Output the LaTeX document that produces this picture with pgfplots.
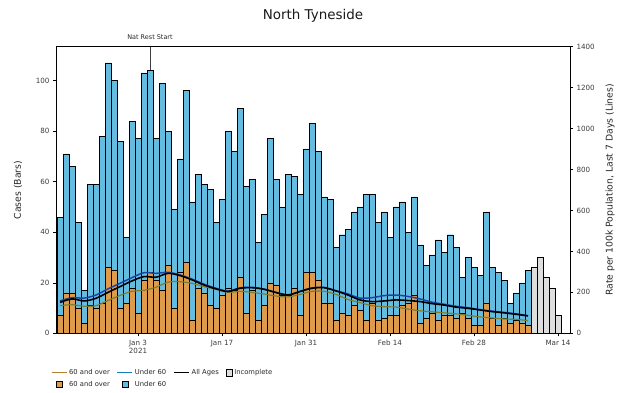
\documentclass[border=0pt]{standalone}
\usepackage{pgfplots}
\pgfplotsset{compat=1.18}
\usepackage{pgfplotstable}
\usepackage{fontspec}
\setmainfont{DejaVu Sans}
\definecolor{barblue}{RGB}{100,188,224}
\definecolor{barorange}{RGB}{222,155,75}
\definecolor{bargrey}{RGB}{222,222,222}
\definecolor{lineblue}{RGB}{25,70,165}
\definecolor{lineold}{RGB}{125,125,50}
\definecolor{legold}{RGB}{185,125,50}
\definecolor{ticktext}{RGB}{60,60,60}

\pgfplotstableread{
day over under inc
0 7 39 0
1 16 55 0
2 16 50 0
3 10 34 0
4 4 13 0
5 11 48 0
6 10 49 0
7 12 66 0
8 26 81 0
9 25 75 0
10 10 66 0
11 12 26 0
12 18 66 0
13 8 69 0
14 21 82 0
15 24 80 0
16 21 56 0
17 17 82 0
18 27 53 0
19 10 39 0
20 24 45 0
21 28 68 0
22 5 47 0
23 18 45 0
24 16 43 0
25 11 46 0
26 10 34 0
27 15 38 0
28 18 62 0
29 17 55 0
30 22 67 0
31 8 50 0
32 17 44 0
33 5 31 0
34 11 36 0
35 20 57 0
36 19 42 0
37 15 35 0
38 15 48 0
39 18 44 0
40 7 48 0
41 24 49 0
42 24 59 0
43 21 51 0
44 12 42 0
45 12 41 0
46 5 29 0
47 8 31 0
48 7 34 0
49 11 37 0
50 9 41 0
51 5 50 0
52 12 43 0
53 5 39 0
54 6 42 0
55 7 31 0
56 7 43 0
57 11 41 0
58 12 28 0
59 15 39 0
60 4 31 0
61 6 21 0
62 8 23 0
63 5 32 0
64 7 25 0
65 7 32 0
66 6 28 0
67 8 14 0
68 6 24 0
69 3 23 0
70 3 20 0
71 12 36 0
72 6 20 0
73 3 21 0
74 6 15 0
75 4 8 0
76 5 11 0
77 4 16 0
78 3 22 0
79 0 0 26
80 0 0 30
81 0 0 22
82 0 0 18
83 0 0 7
}\bars

\pgfplotstableread{
day all under over
0 151 158 135
2 168 174 140
4 158 172 132
6 171 187 135
8 200 217 160
10 228 244 185
12 256 272 205
14 277 296 210
16 274 293 225
18 293 298 250
20 282 285 252
22 261 265 244
24 236 240 228
26 217 220 215
28 204 206 200
30 220 222 205
32 223 224 200
34 215 216 192
36 199 200 182
38 187 188 178
40 204 205 190
42 220 222 205
44 223 224 205
46 207 208 190
48 187 192 165
50 163 172 150
52 155 174 135
54 158 184 130
56 163 187 128
58 160 180 118
60 155 168 110
62 145 152 105
64 138 142 100
66 128 132 95
68 122 125 88
70 114 116 80
72 106 108 75
74 100 102 70
76 93 95 68
78 85 86 62
}\rates

\pgfplotsset{
  boxlegend/.style={legend image code/.code={\draw[##1] (4.5bp,-3.2bp) rectangle (10.5bp,3.2bp);}},
  linelegend/.style={legend image code/.code={\draw[##1] (0bp,0bp) -- (15bp,0bp);}},
  common/.style={
    at={(56bp,59.7bp)}, anchor=south west,
    scale only axis, width=514bp, height=286.6bp,
    xmin=-0.67, xmax=85,
    tick align=outside, major tick length=3bp,
    tick style={black, line width=0.4pt},
    tick label style={font=\fontsize{7.2}{8.4}\selectfont, text=ticktext},
    /pgf/number format/assume math mode=true,
    /pgf/number format/1000 sep={},
  },
}

\begin{document}
\begin{tikzpicture}
\path[use as bounding box] (0,0) rectangle (620bp,393bp);
\begin{axis}[common,
  ymin=0, ymax=113.4,
  ybar stacked, bar width=1,
  xtick={13,27,41,55,69,83},
  xticklabels={{Jan 3\\2021},Jan 17,Jan 31,Feb 14,Feb 28,Mar 14},
  xticklabel style={align=center},
  xtick pos=bottom, ytick pos=left,
  ytick={0,20,...,100},
  axis line style={black, line width=0.5pt},
]
\addplot[fill=barorange, draw=black, line width=0.45pt] table[x=day, y=over] {\bars};
\addplot[fill=barblue, draw=black, line width=0.45pt] table[x=day, y=under] {\bars};
\addplot[fill=bargrey, draw=black, line width=0.45pt] table[x=day, y=inc] {\bars};
\draw[black!75, line width=0.6pt] (axis cs:15,0) -- (axis cs:15,113.4);
\end{axis}
\begin{axis}[common,
  ymin=0, ymax=1400,
  hide x axis, axis y line*=right,
  ytick={0,200,...,1400},
  axis line style={black, line width=0.5pt},
  legend columns=4,
  legend style={at={(-0.012,-0.115)}, anchor=north west, draw=none, fill=none,
    font=\fontsize{6.8}{8}\selectfont, text=black!85,
    /tikz/every even column/.append style={column sep=5bp},
    row sep=1bp, inner sep=1bp},
  legend cell align=left,
]
\addplot[lineold, line width=1.2pt, smooth, forget plot] table[x=day, y=over] {\rates};
\addplot[lineblue, line width=1.5pt, smooth, forget plot] table[x=day, y=under] {\rates};
\addplot[black, line width=1.6pt, smooth, forget plot] table[x=day, y=all] {\rates};
\addlegendimage{linelegend, legold, line width=1.1pt}
\addlegendentry{60 and over}
\addlegendimage{linelegend, lineblue!70!cyan, line width=1.1pt}
\addlegendentry{Under 60}
\addlegendimage{linelegend, black, line width=1.4pt}
\addlegendentry{All Ages}
\addlegendimage{boxlegend, fill=bargrey, draw=black, line width=0.5pt}
\addlegendentry{Incomplete}
\addlegendimage{boxlegend, fill=barorange, draw=black, line width=0.5pt}
\addlegendentry{60 and over}
\addlegendimage{boxlegend, fill=barblue, draw=black, line width=0.5pt}
\addlegendentry{Under 60}
\end{axis}
\node[font=\fontsize{13.5}{15}\selectfont, text=black!90] at (313bp,377bp) {North Tyneside};
\node[font=\fontsize{6.5}{7}\selectfont, text=black!85] at (150bp,356bp) {Nat Rest Start};
\node[rotate=90, font=\fontsize{9.3}{10}\selectfont, text=black!85] at (18bp,203bp) {Cases (Bars)};
\node[rotate=90, font=\fontsize{9.3}{10}\selectfont, text=black!85] at (610bp,203bp) {Rate per 100k Population, Last 7 Days (Lines)};
\end{tikzpicture}
\end{document}
